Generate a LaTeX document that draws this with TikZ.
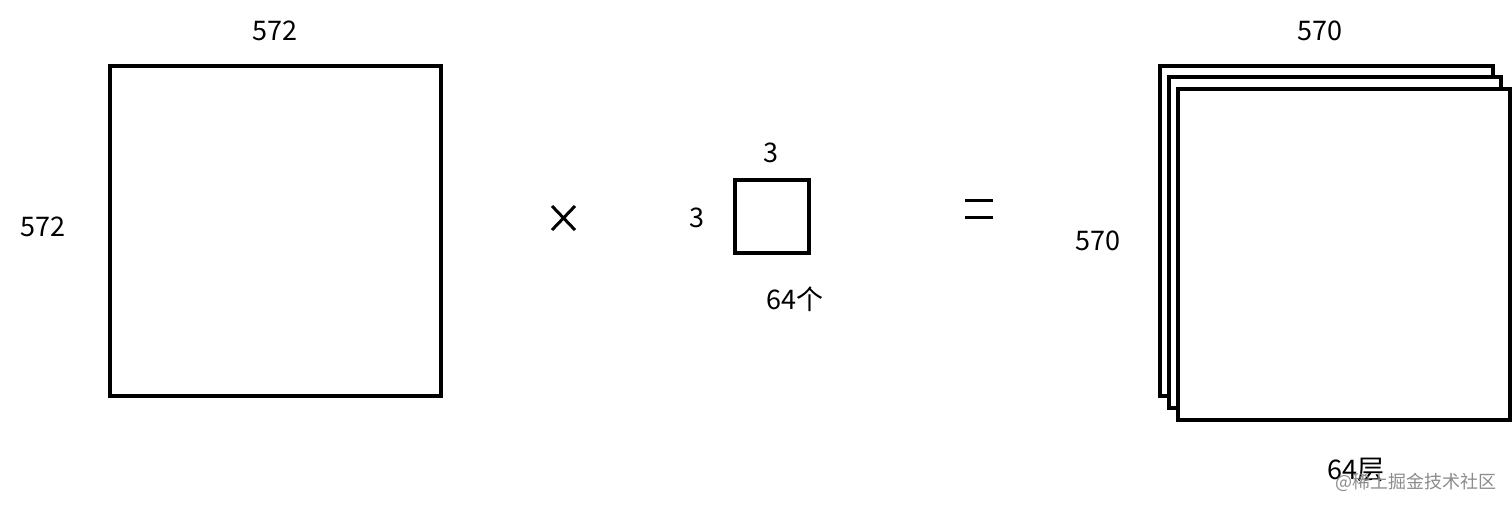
\documentclass[tikz,border=0pt]{standalone}
\usepackage{fontspec}
\setmainfont{Noto Sans CJK SC}
\begin{document}
\begin{tikzpicture}[x=1pt,y=-1pt,
  box/.style={draw=black,line width=3.2pt,fill=white},
  lbl/.style={font=\fontsize{27}{30}\selectfont,inner sep=0pt},
  wm/.style={font=\fontsize{18}{20}\selectfont,text=black!45,inner sep=0pt}]
\useasboundingbox[fill=white] (0,0) rectangle (1512,507);
% big input square
\draw[box] (110,66) rectangle (441,396);
\node[lbl] (btop) at (275,31) {572};
\node[lbl] (bleft) at (43,227) {572};
% times
\draw[line width=3pt] (552,206) -- (575,230) (575,206) -- (552,230);
% kernel
\draw[box] (735,180) rectangle (809,253);
\node[lbl] (ktop) at (771,153) {3};
\node[lbl] (kleft) at (697,218) {3};
\node[lbl] (kcount) at (795,299) {64个};
% equals
\draw[line width=3pt] (965,200) -- (993,200) (965,217) -- (993,217);
% output stack
\draw[box] (1160,66) rectangle (1493,396);
\draw[box] (1169,77) rectangle (1501,408);
\draw[box] (1178,89) rectangle (1510,420);
\node[lbl] (otop) at (1320,31) {570};
\node[lbl] (oleft) at (1098,241) {570};
\node[lbl] (olayers) at (1356,470) {64层};
\node[wm] (wmark) at (1416,482) {@稀土掘金技术社区};
\end{tikzpicture}
\end{document}
